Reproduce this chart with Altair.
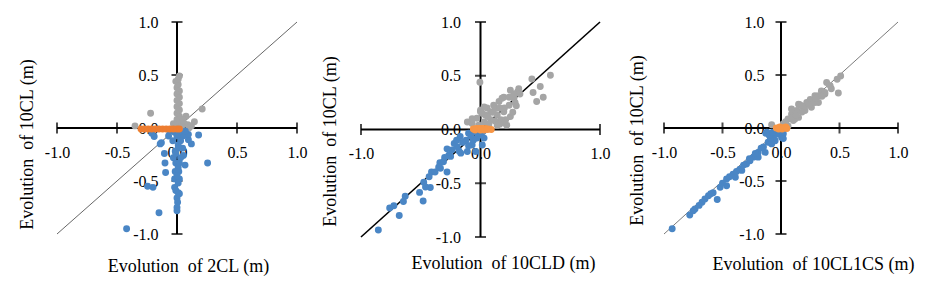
import altair as alt
import pandas as pd

FONT = "Liberation Serif, Times New Roman, serif"
GRAY = "#A5A5A5"
BLUE = "#4A86C5"
ORANGE1 = "#ED7D31"
ORANGE2 = "#F79646"

TICKS_FULL = [-1.0, -0.5, 0.0, 0.5, 1.0]
TICKS_COARSE = [-1.0, 0.0, 1.0]

X_TITLES = ["Evolution\u00a0 of 2CL (m)", "Evolution\u00a0 of 10CLD (m)", "Evolution\u00a0 of 10CL1CS (m)"]
Y_TITLE = "Evolution\u00a0 of 10CL (m)"

# axis lines (data space endpoints) and 1:1 reference line
AXIS_X1 = [-1.0, 0.0]
AXIS_Y1 = [0.0, -1.0]
AXIS_X2 = [1.0, 0.0]
AXIS_Y2 = [0.0, 1.0]
DIAG_X = [-1.0, 1.0]
DIAG_Y = [-1.0, 1.0]

# ---- Panel 1: 2CL vs 10CL ----
P1_GRAY_X = [0.00, 0.02, 0.00, 0.02, 0.00, 0.02, 0.00, 0.02, 0.00, 0.02, 0.00, 0.02, 0.00, 0.01, -0.01, 0.01, 0.02,
             -0.22, 0.21, 0.145, 0.075, 0.05, -0.35, 0.09, 0.12, 0.06, 0.10, -0.03, 0.04, -0.01, 0.03]
P1_GRAY_Y = [0.03, 0.05, 0.08, 0.11, 0.14, 0.17, 0.20, 0.23, 0.26, 0.29, 0.32, 0.35, 0.38, 0.41, 0.44, 0.46, 0.49,
             0.14, 0.18, 0.06, 0.11, 0.08, 0.02, 0.03, 0.02, 0.04, 0.00, 0.04, 0.02, 0.02, 0.01]
P1_BLUE_X = [-0.42, -0.15, -0.245, -0.20, 0.255, -0.095, -0.10, -0.105, -0.14, -0.19, 0.18, 0.12, 0.095, 0.067, 0.053,
             0.047, 0.05, -0.07, 0.095,
             -0.02, 0.02, 0.00, -0.035, 0.03, 0.01, -0.015, 0.01, -0.03, 0.03, -0.01, 0.01, -0.015, 0.015, -0.02, 0.02,
             0.00, -0.02, 0.01, 0.01, -0.01, 0.00, 0.005, 0.00, 0.00, 0.02, -0.01, 0.02,
             -0.21, -0.13, -0.06, 0.07]
P1_BLUE_Y = [-0.95, -0.80, -0.55, -0.56, -0.33, -0.42, -0.33, -0.24, -0.15, -0.08, -0.066, -0.15, -0.11, -0.35, -0.26,
             -0.19, -0.075, -0.075, -0.06,
             -0.04, -0.04, -0.075, -0.12, -0.12, -0.16, -0.22, -0.19, -0.28, -0.28, -0.33, -0.37, -0.41, -0.41, -0.48,
             -0.48, -0.45, -0.56, -0.52, -0.61, -0.59, -0.66, -0.70, -0.75, -0.78, -0.62, -0.24, -0.33,
             -0.05, -0.14, -0.03, -0.03]
P1_ORANGE_X = [-0.30, -0.27, -0.24, -0.21, -0.18, -0.15, -0.12, -0.09, -0.06, -0.03, 0.00, 0.02]
P1_ORANGE_Y = [-0.01, -0.01, -0.01, -0.01, -0.01, -0.01, -0.01, -0.01, -0.01, -0.01, -0.01, -0.01]

# ---- Panel 2: 10CLD vs 10CL ----
P2_GRAY_X = [-0.005, 0.585, 0.43, 0.50, 0.44, 0.47, 0.525, 0.22, 0.32, 0.25, 0.195, 0.155, 0.11, 0.055, 0.015, -0.03,
             0.28, 0.24, 0.195, 0.14, 0.085, 0.03, -0.015, 0.125, 0.31, -0.07, 0.24, 0.18, 0.085, 0.25, 0.21, 0.17,
             0.04, 0.00, -0.11, -0.07, 0.00, 0.03, 0.28, 0.33, 0.20, 0.16, 0.10, 0.06, 0.12, 0.07, 0.16, 0.29, 0.27,
             0.30, 0.20, 0.14]
P2_GRAY_Y = [0.44, 0.505, 0.47, 0.40, 0.345, 0.26, 0.30, 0.04, 0.38, 0.365, 0.30, 0.26, 0.225, 0.20, 0.15, 0.105,
             0.29, 0.225, 0.165, 0.135, 0.09, 0.07, 0.04, 0.195, 0.35, 0.055, 0.30, 0.29, 0.165, 0.12, 0.09, 0.09,
             0.135, 0.165, 0.07, 0.10, 0.18, 0.21, 0.33, 0.33, 0.20, 0.20, 0.16, 0.12, 0.08, 0.05, 0.05, 0.25, 0.16,
             0.22, 0.06, 0.04]
P2_BLUE_X = [-0.855, -0.68, -0.76, -0.725, -0.63, -0.645, -0.48, -0.51, -0.475, -0.42, -0.41, -0.34, -0.28, -0.335,
             -0.265, -0.24, -0.195, -0.165, -0.11, -0.07, -0.03, 0.00, 0.015, 0.03, -0.17, -0.10, -0.055, -0.22,
             -0.28, -0.31, -0.38, -0.43, -0.46, -0.04, -0.12, -0.06, -0.15, -0.20, -0.08, 0.02, -0.02, -0.10, -0.18,
             -0.25, -0.30, -0.35]
P2_BLUE_Y = [-0.935, -0.80, -0.73, -0.71, -0.62, -0.67, -0.665, -0.585, -0.49, -0.54, -0.395, -0.31, -0.395, -0.36,
             -0.24, -0.19, -0.16, -0.22, -0.205, -0.145, -0.08, -0.05, -0.145, -0.08, -0.065, -0.035, -0.02, -0.13,
             -0.18, -0.30, -0.395, -0.44, -0.535, -0.205, -0.10, -0.10, -0.12, -0.10, -0.06, -0.02, -0.03, -0.15,
             -0.20, -0.25, -0.26, -0.35]
P2_ORANGE_X = [-0.06, -0.035, -0.01, 0.015, 0.04, 0.065, 0.09, -0.045, 0.0, 0.03, 0.055]
P2_ORANGE_Y = [0.005, 0.01, 0.01, 0.01, 0.01, 0.005, 0.0, -0.005, -0.005, -0.005, 0.0]

# ---- Panel 3: 10CL1CS vs 10CL ----
P3_GRAY_X = [0.51, 0.48, 0.39, 0.42, 0.49, 0.345, 0.29, 0.25, 0.175, 0.135, 0.09, 0.06, 0.02, 0.32, 0.26, 0.205, 0.15,
             0.105, 0.06, 0.15, 0.22, 0.375, 0.43, 0.29, -0.08, 0.16, 0.09, 0.32, 0.375, 0.12, 0.035, 0.20, 0.10, 0.30,
             0.24, 0.18, 0.13, 0.35, 0.04]
P3_GRAY_Y = [0.49, 0.46, 0.43, 0.40, 0.33, 0.35, 0.305, 0.27, 0.21, 0.165, 0.13, 0.085, 0.04, 0.24, 0.195, 0.165, 0.10,
             0.07, 0.02, 0.225, 0.24, 0.32, 0.37, 0.24, 0.03, 0.22, 0.18, 0.305, 0.335, 0.085, 0.02, 0.20, 0.10, 0.28,
             0.22, 0.15, 0.12, 0.30, 0.06]
P3_BLUE_X = [-0.93, -0.78, -0.735, -0.675, -0.62, -0.545, -0.58, -0.52, -0.465, -0.465, -0.41, -0.35, -0.295, -0.235,
             -0.195, -0.15, -0.11, -0.065, -0.025, 0.005, 0.02, -0.12, -0.13, -0.265, -0.335, -0.39, -0.195, -0.135,
             -0.08, -0.05, -0.75, -0.70, -0.65, -0.60, -0.50, -0.44, -0.38, -0.32, -0.27, -0.22, -0.17, -0.09, -0.04,
             -0.10, -0.07, -0.04, 0.01, 0.02]
P3_BLUE_Y = [-0.95, -0.82, -0.765, -0.70, -0.64, -0.675, -0.61, -0.56, -0.545, -0.48, -0.435, -0.39, -0.34, -0.275,
             -0.23, -0.18, -0.135, -0.09, -0.055, -0.09, -0.055, -0.04, -0.05, -0.31, -0.40, -0.465, -0.275, -0.23,
             -0.15, -0.12, -0.78, -0.73, -0.67, -0.62, -0.52, -0.46, -0.41, -0.35, -0.29, -0.24, -0.19, -0.10, -0.06,
             -0.07, -0.04, -0.02, -0.03, -0.10]
P3_ORANGE_X = [-0.04, -0.01, 0.02, 0.04, -0.02, 0.01, 0.05]
P3_ORANGE_Y = [0.0, 0.01, 0.0, 0.01, -0.01, -0.01, -0.005]

LABEL_EXPR = "(datum.value < 0 ? '-' : '') + format(abs(datum.value), '.1f')"


def panel(w, h, xticks, gray, blue, orange, orange_color, line_color, line_width,
          xtitle, xtitle_x, xtitle_y, ytitle_x, ytitle_y, ylab_pad):
    xs = alt.Scale(domain=[-1, 1], nice=False, zero=False)
    ys = alt.Scale(domain=[-1, 1], nice=False, zero=False)
    xaxis = alt.Axis(values=xticks, labelExpr=LABEL_EXPR, domain=False, ticks=False, tickSize=0, grid=False,
                     offset=-h / 2, labelPadding=16, labelFont=FONT, labelFontSize=16, labelColor="black",
                     labelFlush=False, labelOverlap=False, title=xtitle, titleFont=FONT, titleFontSize=18,
                     titleFontWeight="normal", titleColor="black", titleX=xtitle_x, titleY=xtitle_y,
                     titleAlign="center", titleBaseline="middle")
    yaxis = alt.Axis(values=TICKS_FULL, labelExpr=LABEL_EXPR, domain=False, ticks=False, tickSize=0, grid=False,
                     offset=-w / 2, labelPadding=ylab_pad, labelFont=FONT, labelFontSize=16, labelColor="black",
                     labelFlush=False, labelOverlap=False, title=Y_TITLE, titleFont=FONT, titleFontSize=18,
                     titleFontWeight="normal", titleColor="black", titleX=ytitle_x, titleY=ytitle_y,
                     titleAlign="center", titleBaseline="middle", titleAngle=270)

    def X(field):
        return alt.X(field, scale=xs, axis=xaxis)

    def Y(field):
        return alt.Y(field, scale=ys, axis=yaxis)

    axes_df = pd.DataFrame({"x": AXIS_X1, "y": AXIS_Y1, "x2": AXIS_X2, "y2": AXIS_Y2})
    axis_lines = alt.Chart(axes_df).mark_rule(color="black", strokeWidth=2).encode(
        x=X("x:Q"), y=Y("y:Q"), x2="x2:Q", y2="y2:Q")

    xt_df = pd.DataFrame({"x": xticks, "y": [0.0] * len(xticks)})
    yt_df = pd.DataFrame({"x": [0.0] * len(TICKS_FULL), "y": TICKS_FULL})
    xticks_layer = alt.Chart(xt_df).mark_tick(color="black", orient="vertical", size=11, thickness=2).encode(
        x=X("x:Q"), y=Y("y:Q"))
    yticks_layer = alt.Chart(yt_df).mark_tick(color="black", orient="horizontal", size=11, thickness=2).encode(
        x=X("x:Q"), y=Y("y:Q"))

    diag = alt.Chart(pd.DataFrame({"x": DIAG_X, "y": DIAG_Y})).mark_line(
        color=line_color, strokeWidth=line_width).encode(x=X("x:Q"), y=Y("y:Q"))

    def pts(xy, color):
        df = pd.DataFrame({"x": xy[0], "y": xy[1]})
        return alt.Chart(df).mark_circle(size=48, opacity=1, color=color).encode(x=X("x:Q"), y=Y("y:Q"))

    return alt.layer(
        axis_lines, xticks_layer, yticks_layer, diag,
        pts(gray, GRAY), pts(blue, BLUE), pts(orange, orange_color)
    ).properties(width=w, height=h)


p1 = panel(240, 212, TICKS_FULL, (P1_GRAY_X, P1_GRAY_Y), (P1_BLUE_X, P1_BLUE_Y), (P1_ORANGE_X, P1_ORANGE_Y),
           ORANGE1, "#404040", 0.8, X_TITLES[0], 131, 138, -150, 122, 19)
p2 = panel(239, 215, TICKS_COARSE, (P2_GRAY_X, P2_GRAY_Y), (P2_BLUE_X, P2_BLUE_Y), (P2_ORANGE_X, P2_ORANGE_Y),
           ORANGE2, "black", 1.6, X_TITLES[1], 142, 134, -150, 119, 20)
p3 = panel(234, 212, TICKS_FULL, (P3_GRAY_X, P3_GRAY_Y), (P3_BLUE_X, P3_BLUE_Y), (P3_ORANGE_X, P3_ORANGE_Y),
           ORANGE2, "#595959", 0.8, X_TITLES[2], 149, 136, -144, 118, 17)

chart = alt.hconcat(p1, p2, p3, spacing=64, bounds="flush").properties(
    padding={"left": 10, "top": 6, "right": 5, "bottom": 5}
).configure(background="white").configure_view(stroke=None)

chart.save("out.html", embed_options={"renderer": "svg", "actions": False})
